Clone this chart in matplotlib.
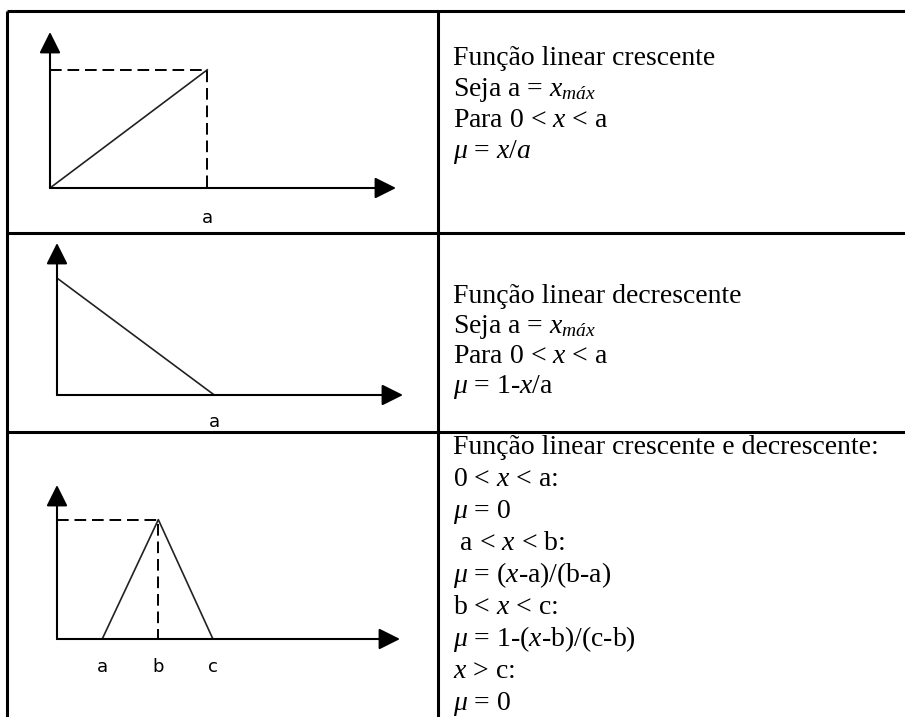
import matplotlib.pyplot as plt

plt.rcParams['font.family'] = ['Liberation Serif', 'DejaVu Serif']
plt.rcParams['mathtext.fontset'] = 'custom'
plt.rcParams['mathtext.rm'] = 'Liberation Serif'
plt.rcParams['mathtext.it'] = 'Liberation Serif:italic'

# Membership function shapes (x in diagram units, mu from 0 to 1).
inc_x = [0, 1]
inc_mu = [0, 1]
dec_x = [0, 1]
dec_mu = [1, 0]
tri_x = [0.29, 0.65, 1.0]
tri_mu = [0, 1, 0]

inc_labels = ['a']
dec_labels = ['a']
tri_labels = ['a', 'b', 'c']

row1_text = ["Função linear crescente",
             "Seja a = $x_{máx}$",
             "Para 0 < $x$ < a",
             r"$\mu$ = $x/a$"]
row2_text = ["Função linear decrescente",
             "Seja a = $x_{máx}$",
             "Para 0 < $x$ < a",
             r"$\mu$ = 1-$x$/a"]
row3_text = ["Função linear crescente e decrescente:",
             "0 < $x$ < a:",
             r"$\mu$ = 0",
             " a < $x$ < b:",
             r"$\mu$ = ($x$-a)/(b-a)",
             "b < $x$ < c:",
             r"$\mu$ = 1-($x$-b)/(c-b)",
             "$x$ > c:",
             r"$\mu$ = 0"]

W, H = 905, 717
fig = plt.figure(figsize=(W / 100, H / 100), dpi=100)

# Background axes in pixel coordinates for the table and its text.
bg = fig.add_axes([0, 0, 1, 1])
bg.set_xlim(0, W)
bg.set_ylim(H, 0)
bg.axis('off')

border = dict(color='black', lw=2.2, solid_capstyle='butt')
bg.plot([7, W], [10.5, 10.5], **border)
bg.plot([7, W], [232.5, 232.5], **border)
bg.plot([7, W], [431.5, 431.5], **border)
bg.plot([7, 7], [10.5, H], **border)
bg.plot([438, 438], [10.5, H], **border)


def write_lines(lines, first_baseline, spacing):
    for i, s in enumerate(lines):
        bg.text(453, first_baseline + i * spacing, s, fontsize=20,
                ha='left', va='baseline', color='black')


write_lines(row1_text, 65, 31)
write_lines(row2_text, 303, 30)
write_lines(row3_text, 454, 32)


def px_rect(x0, y_tip, x_tip, y0):
    return [x0 / W, (H - y0) / H, (x_tip - x0) / W, (y0 - y_tip) / H]


def diagram(rect, xmax, ymax, xs, mus, labels, label_xs, dashed, gap):
    ax = fig.add_axes(px_rect(*rect))
    ax.set_xlim(0, xmax)
    ax.set_ylim(0, ymax)
    ax.axis('off')

    arrow = dict(arrowstyle='-|>,head_length=1.3,head_width=0.65',
                 lw=1.5, color='black', shrinkA=0, shrinkB=0,
                 mutation_scale=10)
    ax.annotate('', xy=(xmax, 0), xytext=(0, 0), arrowprops=arrow,
                annotation_clip=False)
    ax.annotate('', xy=(0, ymax), xytext=(0, 0), arrowprops=arrow,
                annotation_clip=False)

    ax.plot(xs, mus, color='#222222', lw=1.2, clip_on=False)

    if dashed:
        k = mus.index(max(mus))
        ax.plot([0, xs[k], xs[k]], [mus[k], mus[k], 0], color='black',
                lw=1.4, ls=(0, (6, 3)), clip_on=False)

    for lab, x in zip(labels, label_xs):
        ax.annotate(lab, xy=(x, 0), xytext=(0, -gap),
                    textcoords='offset pixels', ha='center', va='center',
                    fontsize=13, family='DejaVu Sans')


diagram((50, 32, 396, 188), 2.2, 1.32, inc_x, inc_mu,
        inc_labels, [inc_x[-1]], True, 30)
diagram((57, 243, 403, 395), 2.2, 1.3, dec_x, dec_mu,
        dec_labels, [dec_x[-1]], False, 27)
diagram((57, 485, 400, 639), 2.2, 1.29, tri_x, tri_mu,
        tri_labels, tri_x, True, 28)

fig.savefig('out.png', dpi=100)
